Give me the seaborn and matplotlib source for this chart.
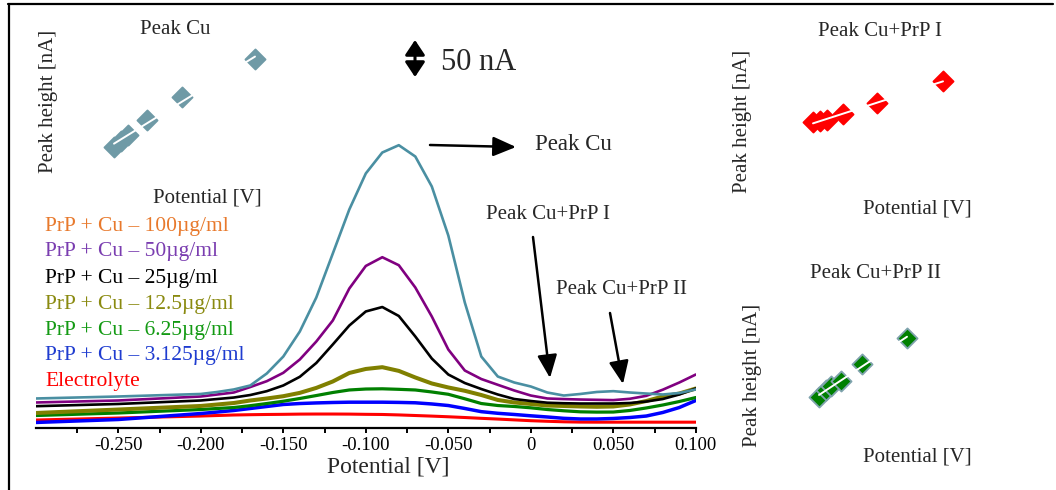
import numpy as np
import pandas as pd
import matplotlib
matplotlib.use("Agg")
import matplotlib.pyplot as plt
import seaborn as sns
from matplotlib.lines import Line2D

# ---------------- data ----------------
potential = [-0.30, -0.25, -0.20, -0.19, -0.18, -0.17, -0.16, -0.15, -0.14, -0.13,
             -0.12, -0.11, -0.10, -0.09, -0.08, -0.07, -0.06, -0.05, -0.04, -0.03,
             -0.02, -0.01, 0.00, 0.01, 0.02, 0.03, 0.04, 0.05, 0.06, 0.07,
             0.08, 0.09, 0.10]

cu_100 = [39.2, 41.9, 45.3, 48.0, 51.4, 56.8, 73.0, 95.9, 129.7, 175.7,
          235.1, 294.6, 343.3, 371.6, 381.5, 366.2, 325.7, 259.5, 168.9, 95.9,
          68.9, 60.8, 55.4, 47.3, 43.2, 45.3, 48.0, 49.1, 47.3, 45.9,
          44.6, 46.6, 51.4]
cu_50 = [33.8, 36.5, 41.9, 44.6, 47.3, 54.7, 62.6, 73.9, 91.9, 116.2,
         144.6, 187.8, 218.3, 230.1, 219.3, 189.2, 150.0, 105.4, 77.0, 65.5,
         57.7, 50.0, 43.2, 39.2, 38.4, 37.8, 37.4, 37.0, 38.8, 42.8,
         51.1, 60.8, 71.6]
cu_25 = [28.8, 31.8, 36.5, 38.5, 40.5, 43.9, 49.1, 56.8, 68.5, 87.2,
         112.2, 137.8, 156.8, 162.8, 150.7, 123.0, 93.2, 71.6, 60.1, 52.0,
         44.6, 38.5, 35.8, 33.5, 32.8, 32.4, 32.4, 32.4, 33.1, 35.1,
         38.5, 44.6, 52.7]
cu_12_5 = [19.6, 24.3, 29.1, 31.1, 33.1, 36.5, 39.2, 42.3, 46.8, 53.5,
           62.2, 73.7, 79.1, 81.5, 76.5, 67.6, 59.5, 54.1, 49.6, 43.9,
           37.2, 33.8, 31.8, 29.7, 29.1, 28.4, 28.0, 28.4, 31.1, 35.8,
           41.9, 45.9, 52.7]
cu_6_25 = [16.2, 19.6, 24.3, 25.7, 27.0, 29.5, 32.4, 35.5, 39.2, 43.2,
           47.3, 50.7, 52.0, 52.3, 51.6, 50.7, 48.0, 44.9, 38.8, 32.4,
           29.7, 28.4, 26.6, 24.3, 22.6, 21.2, 20.8, 20.9, 23.0, 26.4,
           30.4, 35.1, 40.5]
cu_3_125 = [6.8, 10.8, 18.9, 20.9, 23.0, 25.7, 28.4, 31.1, 32.4, 33.2,
            33.8, 34.2, 34.2, 34.2, 33.9, 33.4, 31.8, 29.7, 25.7, 21.4,
            19.2, 17.6, 15.8, 14.2, 12.4, 11.5, 11.5, 12.2, 13.5, 15.5,
            20.3, 27.0, 36.5]
electrolyte = [10.1, 12.8, 15.5, 16.2, 16.9, 17.3, 17.6, 17.8, 18.1, 18.2,
               18.2, 18.1, 17.8, 17.6, 17.0, 16.2, 15.4, 14.5, 13.5, 12.4,
               11.4, 10.3, 9.2, 8.4, 7.7, 7.3, 7.2, 7.2, 7.2, 7.2,
               7.2, 7.2, 7.2]

legend_labels = ["PrP + Cu \u2013 100\u00b5g/ml", "PrP + Cu \u2013 50\u00b5g/ml",
                 "PrP + Cu \u2013 25\u00b5g/ml", "PrP + Cu \u2013 12.5\u00b5g/ml",
                 "PrP + Cu \u2013 6.25\u00b5g/ml", "PrP + Cu \u2013 3.125\u00b5g/ml",
                 "Electrolyte"]

xtick_values = [-0.25, -0.20, -0.15, -0.10, -0.05, 0.0, 0.05, 0.10]
xtick_labels = ["-0.250", "-0.200", "-0.150", "-0.100", "-0.050", "0", "0.050", "0.100"]

# inset data (arbitrary units)
peak_cu_x = [24, 31, 38, 57, 92, 165]
peak_cu_y = [23, 29, 35, 50, 73, 110.5]
peak_i_x = [23, 30, 37, 53, 87, 153]
peak_i_y = [38, 39, 40, 46, 57, 79]
peak_ii_x = [29, 36, 41, 51, 72, 117]
peak_ii_y = [23, 30, 34, 39, 56, 82]

scale_bar_nA = 50

# ---------------- style ----------------
sns.set_theme(style="white")
plt.rcParams['font.family'] = ['Liberation Serif', 'DejaVu Serif']

W, H = 1056, 490
fig = plt.figure(figsize=(W / 100, H / 100), dpi=100)
fig.patch.set_facecolor("white")


def fx(px):
    return px / W


def fy(py):
    return 1 - py / H


def add_ax(left, top, right, bottom):
    return fig.add_axes([fx(left), fy(bottom), (right - left) / W, (bottom - top) / H])


# frame lines of the figure
fig.add_artist(Line2D([fx(8), fx(1053)], [fy(4), fy(4)], color="black", lw=1.6))
fig.add_artist(Line2D([fx(8.5), fx(8.5)], [fy(4), fy(490)], color="black", lw=1.6))

# ---------------- main axes ----------------
nA_per_px = 50 / 37
ax = add_ax(35.8, 10, 695.8, 427.5)
ax.patch.set_alpha(0)

series = [
    ("Electrolyte", electrolyte, "#ff0000", 2.2),
    ("3.125", cu_3_125, "#0000ff", 2.5),
    ("6.25", cu_6_25, "#008000", 2.3),
    ("12.5", cu_12_5, "#808000", 2.9),
    ("25", cu_25, "#000000", 1.9),
    ("50", cu_50, "#800080", 1.9),
    ("100", cu_100, "#4a8fa2", 1.9),
]
for name, vals, col, lw in series:
    d = pd.DataFrame({"Potential": potential, "Current": vals})
    sns.lineplot(data=d, x="Potential", y="Current", color=col, linewidth=lw,
                 estimator=None, sort=False, ax=ax, legend=False)

ax.set_xlim(-0.30, 0.10)
ax.set_ylim(0, (427.5 - 10) * nA_per_px)
ax.set_xticks(xtick_values)
ax.set_xticklabels(xtick_labels, fontsize=13.5)
ax.set_xticks(np.array(xtick_values) - 0.025, minor=True)
ax.tick_params(axis="x", which="both", direction="out", length=3.5, width=1.4,
               bottom=True, colors="black", pad=3)
ax.tick_params(axis="y", left=False, labelleft=False)
for s in ["left", "right", "top"]:
    ax.spines[s].set_visible(False)
ax.spines["bottom"].set_color("black")
ax.spines["bottom"].set_linewidth(1.6)
ax.set_xlabel("")
ax.set_ylabel("")

fig.text(fx(388), fy(467), "Potential [V]", fontsize=17, ha="center", va="center")

# scale bar (50 nA) in data units
sb_x = -0.3 + (415 - 35.8) / 1650
sb_y0 = (427.5 - 77) * nA_per_px
ax.annotate("", xy=(sb_x, sb_y0 + scale_bar_nA), xytext=(sb_x, sb_y0),
            arrowprops=dict(arrowstyle="<|-|>,head_length=0.45,head_width=0.3",
                            color="black", lw=2.2, shrinkA=0, shrinkB=0,
                            mutation_scale=20))
fig.text(fx(441), fy(63), "50 nA", fontsize=22, ha="left", va="center")


def fig_arrow(x0, y0, x1, y1):
    fig.add_artist(matplotlib.patches.FancyArrowPatch(
        (fx(x0), fy(y0)), (fx(x1), fy(y1)), transform=fig.transFigure,
        arrowstyle="-|>,head_length=0.7,head_width=0.3", mutation_scale=20,
        color="black", lw=1.8, shrinkA=0, shrinkB=0))


fig_arrow(430, 145, 516, 147)
fig.text(fx(535), fy(145), "Peak Cu", fontsize=16.5, ha="left", va="center")
fig_arrow(533, 237, 550, 378)
fig.text(fx(486), fy(214), "Peak Cu+PrP I", fontsize=15, ha="left", va="center")
fig_arrow(610, 313, 623, 384)
fig.text(fx(556), fy(290), "Peak Cu+PrP II", fontsize=15, ha="left", va="center")

# legend as coloured text
legend_colors = ["#e8792c", "#7a3db0", "#000000", "#8a8a10", "#139a13", "#1f3cd0", "#ff0000"]
legend_y = [226.7, 251.7, 278.3, 304, 330, 355, 381]
for lab, col, yy in zip(legend_labels, legend_colors, legend_y):
    fig.text(fx(45), fy(yy), lab, color=col, fontsize=15.5, ha="left", va="center")

# ---------------- insets ----------------
def inset(box, xs, ys, face, edge, title, tpos, ypos, xpos):
    l, t, w, h = box
    axi = add_ax(l, t, l + w, t + h)
    axi.patch.set_alpha(0)
    sns.scatterplot(x=xs, y=ys, marker="D", s=105, color=face, edgecolor=edge,
                    linewidth=1.3, ax=axi, legend=False, zorder=3)
    k, b = np.polyfit(xs, ys, 1)
    xx = np.array([min(xs), max(xs)])
    axi.plot(xx, k * xx + b, color="white", lw=1.4, zorder=4)
    axi.set_xlim(0, w)
    axi.set_ylim(0, h)
    axi.set_axis_off()
    fig.text(fx(tpos[0]), fy(tpos[1]), title, fontsize=15, ha="center", va="center")
    fig.text(fx(ypos[0]), fy(ypos[1]), "Peak height [nA]", fontsize=15,
             ha="center", va="center", rotation=90)
    fig.text(fx(xpos[0]), fy(xpos[1]), "Potential [V]", fontsize=15,
             ha="center", va="center")


inset((90, 40, 200, 130), peak_cu_x, peak_cu_y, "#6f9aa6", "#6f9aa6",
      "Peak Cu", (175, 30), (48, 101.5), (207, 198))
inset((790, 40, 200, 120), peak_i_x, peak_i_y, "#ff0000", "#ff0000",
      "Peak Cu+PrP I", (880, 31.5), (743, 121.5), (917, 209))
inset((790, 300, 200, 120), peak_ii_x, peak_ii_y, "#008000", "#7fa3ad",
      "Peak Cu+PrP II", (876, 273), (753, 375), (917, 457))

fig.savefig("out.png", dpi=100, facecolor="white")
